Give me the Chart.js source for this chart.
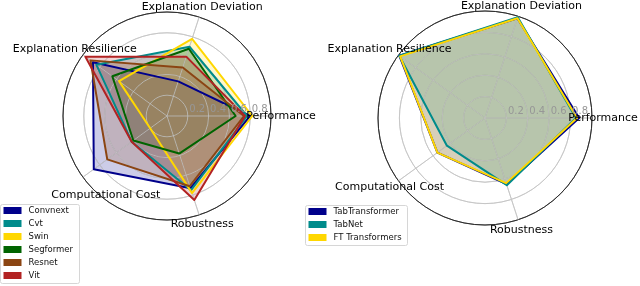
<!DOCTYPE html>
<html>
<head>
<meta charset="utf-8">
<script src="https://cdn.jsdelivr.net/npm/chart.js@4.4.0/dist/chart.umd.min.js"></script>
<style>
  html, body { margin: 0; padding: 0; background: #fff; }
  #wrap { position: relative; width: 640px; height: 286px; }
  canvas { position: absolute; left: 0; top: 0; }
</style>
</head>
<body>
<div id="wrap">
  <canvas id="leftChart" width="640" height="286"></canvas>
  <canvas id="rightChart" width="640" height="286"></canvas>
</div>
<script>
// axes, counter-clockwise from east (as in the original figure)
const categories = ['Performance', 'Explanation Deviation', 'Explanation Resilience', 'Computational Cost', 'Robustness'];
const tickValues = [0.2, 0.4, 0.6, 0.8];
const tickLabels = ['0.2', '0.4', '0.6', '0.8'];

// vision models
const visionNames = ['Convnext', 'Cvt', 'Swin', 'Segformer', 'Resnet', 'Vit'];
const convnext  = [0.80, 0.35, 0.88, 0.87, 0.73];
const cvt       = [0.77, 0.70, 0.84, 0.42, 0.75];
const swin      = [0.82, 0.78, 0.57, 0.20, 0.78];
const segformer = [0.66, 0.68, 0.65, 0.40, 0.38];
const resnet    = [0.74, 0.49, 0.91, 0.71, 0.71];
const vit       = [0.75, 0.60, 0.97, 0.42, 0.85];
const visionColors = ['#00008B', '#008B8B', '#FFD700', '#006400', '#8B4513', '#B22222'];

// tabular models
const tabularNames = ['TabTransformer', 'TabNet', 'FT Transformers'];
const tabTransformer = [0.88, 0.98, 0.99, 0.55, 0.65];
const tabNet         = [0.85, 0.99, 0.99, 0.44, 0.66];
const ftTransformers = [0.86, 0.98, 0.98, 0.55, 0.64];
const tabularColors = ['#00008B', '#008B8B', '#FFD700'];

// Chart.js goes clockwise, so walk the axes the other way round
const cwOrder = [0, 4, 3, 2, 1];
const FONT = '"DejaVu Sans", sans-serif';

function withAlpha(hex, a) {
    const n = parseInt(hex.slice(1), 16);
    return `rgba(${(n >> 16) & 255}, ${(n >> 8) & 255}, ${n & 255}, ${a})`;
}

// grid sits above the fills but below the lines, like matplotlib
const gridOnTop = {
    id: 'gridOnTop',
    beforeDatasetDraw(chart, args, opts) {
        if (args.index === opts.firstLine) {
            chart.ctx.save();
            chart.scales.r.drawGrid();
            chart.ctx.restore();
        }
    }
};

// axis names, radial tick labels and the boxed legend
const decorations = {
    id: 'decorations',
    afterDraw(chart, args, opts) {
        const ctx = chart.ctx;
        const r = chart.scales.r;
        ctx.save();

        ctx.font = `11px ${FONT}`;
        ctx.fillStyle = '#000';
        ctx.textAlign = 'center';
        ctx.textBaseline = 'middle';
        r.getLabels().forEach((label, i) => {
            const p = r.getPointPosition(i, r.drawingArea + opts.labelPad);
            const nudge = opts.nudge[label] || [0, 0];
            ctx.fillText(label, p.x + nudge[0], p.y + nudge[1]);
        });

        ctx.font = `10px ${FONT}`;
        ctx.fillStyle = '#979797';
        ctx.textAlign = 'left';
        tickValues.forEach((v, i) => {
            const p = r.getPointPosition(0, r.getDistanceFromCenterForValue(v));
            ctx.fillText(tickLabels[i], p.x + 1.5, p.y - 7);
        });

        const lg = opts.legend;
        const lines = chart.data.datasets.filter(d => d.label);
        ctx.fillStyle = 'rgba(255,255,255,0.8)';
        ctx.strokeStyle = '#d6d6d6';
        ctx.lineWidth = 1;
        ctx.beginPath();
        ctx.roundRect(lg.x + 0.5, lg.y + 0.5, lg.w, lg.h, 2);
        ctx.fill();
        ctx.stroke();
        ctx.font = `8.5px ${FONT}`;
        lines.forEach((d, i) => {
            const cy = lg.y + 6.5 + i * 13;
            ctx.fillStyle = d.borderColor;
            ctx.fillRect(lg.x + 3.5, cy - 3.5, 18, 7);
            ctx.fillStyle = '#111';
            ctx.fillText(d.label, lg.x + 28.5, cy);
        });
        ctx.restore();
    }
};

function makeRadar(id, names, series, colors, layout) {
    const n = series.length;
    const fills = series.map((vals, i) => ({
        data: cwOrder.map(k => vals[k]),
        backgroundColor: withAlpha(colors[i], 0.2),
        borderWidth: 0,
        fill: true,
        order: 100 - i
    }));
    const lines = series.map((vals, i) => ({
        label: names[i],
        data: cwOrder.map(k => vals[k]),
        borderColor: colors[i],
        borderWidth: 2,
        borderJoinStyle: 'round',
        fill: false,
        order: 50 - i
    }));

    return new Chart(document.getElementById(id), {
        type: 'radar',
        data: {
            labels: cwOrder.map(k => categories[k]),
            datasets: fills.concat(lines)
        },
        options: {
            responsive: false,
            animation: false,
            layout: { padding: layout.padding },
            elements: { point: { radius: 0 }, line: { tension: 0 } },
            scales: {
                r: {
                    min: 0,
                    max: 1,
                    startAngle: 90,
                    ticks: { display: false, stepSize: 0.2 },
                    pointLabels: { display: false },
                    grid: {
                        circular: true,
                        lineWidth: 0.8,
                        color: c => (c.tick && c.tick.value > 0.99) ? '#222' : '#c4c4c4'
                    },
                    angleLines: { color: '#c4c4c4', lineWidth: 0.8 }
                }
            },
            plugins: {
                legend: { display: false },
                tooltip: { enabled: false },
                gridOnTop: { firstLine: n },
                decorations: {
                    labelPad: layout.labelPad,
                    nudge: layout.nudge,
                    legend: layout.legend
                }
            }
        },
        plugins: [gridOnTop, decorations]
    });
}

makeRadar('leftChart', visionNames,
    [convnext, cvt, swin, segformer, resnet, vit], visionColors, {
        padding: { left: 63, right: 369, top: 12, bottom: 66 },
        labelPad: 10,
        nudge: { 'Computational Cost': [31, 12] },
        legend: { x: 0, y: 204, w: 79, h: 79 }
    });

makeRadar('rightChart', tabularNames,
    [tabTransformer, tabNet, ftTransformers], tabularColors, {
        padding: { left: 378, right: 48, top: 11, bottom: 61 },
        labelPad: 11,
        nudge: {},
        legend: { x: 305, y: 205, w: 102, h: 40 }
    });
</script>
</body>
</html>
